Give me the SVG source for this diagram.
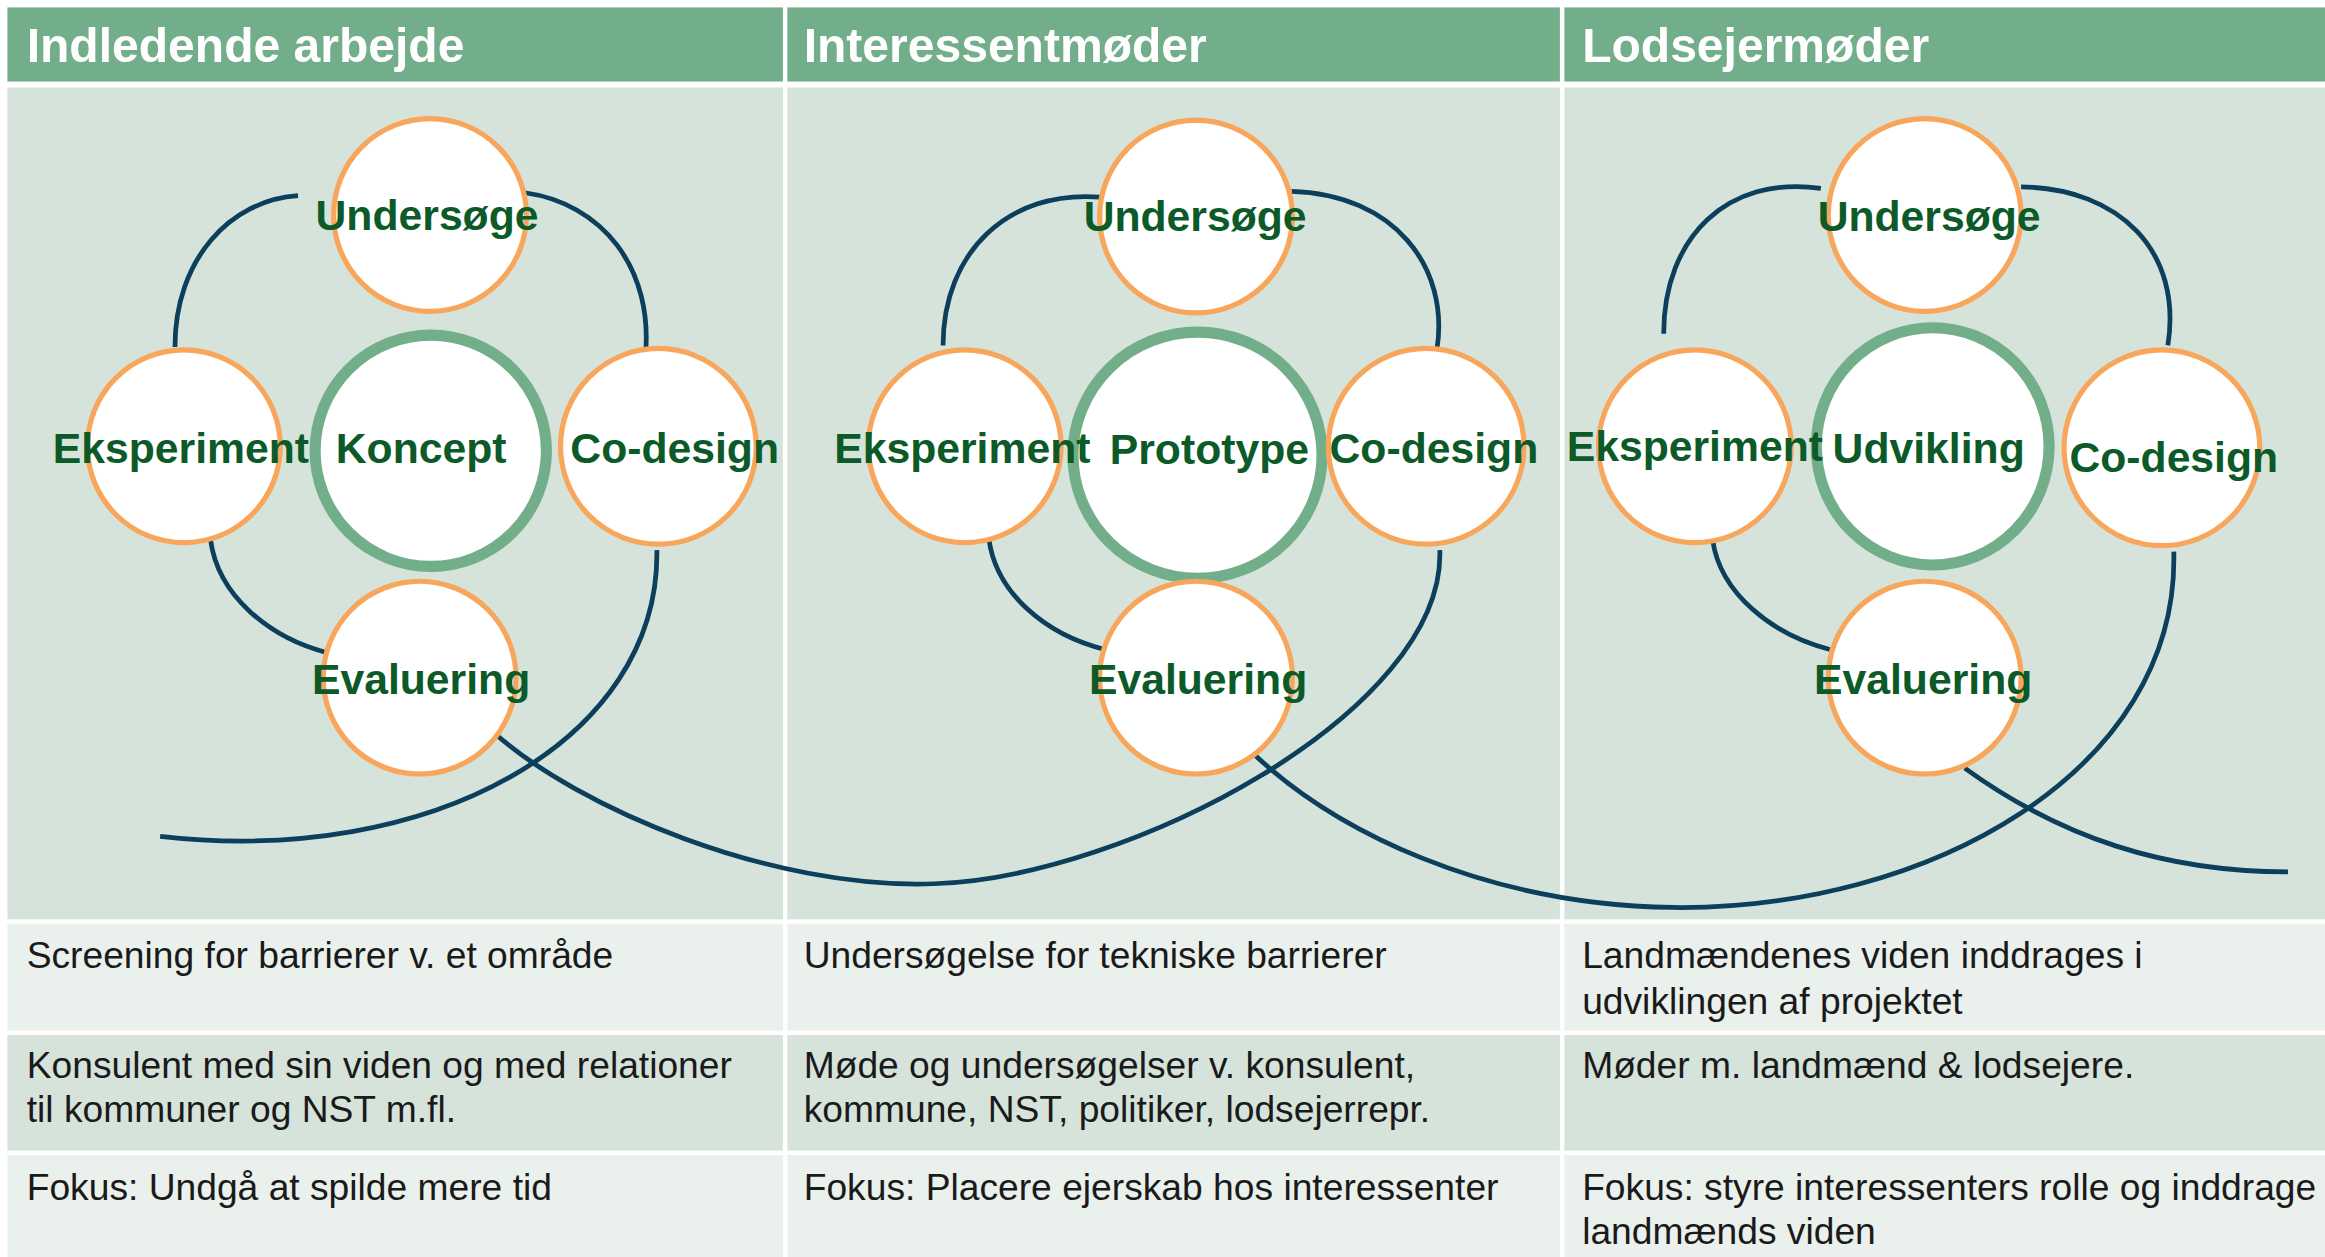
<svg xmlns="http://www.w3.org/2000/svg" width="2325" height="1257" viewBox="0 0 2325 1257">
<defs>
<style>
.hdr{fill:#72AE8A}
.pnl{fill:#D6E3DA}
.rowl{fill:#EAF0EC}
.rowd{fill:#D6E3DA}
.htxt{font-family:"Liberation Sans",Arial,sans-serif;font-weight:bold;font-size:32.4px;fill:#FFFFFF}
.btxt{font-family:"Liberation Sans",Arial,sans-serif;font-size:25.1px;fill:#1A1A1A}
.sm{fill:#FFFFFF;stroke:#F8A65B;stroke-width:3.5}
.big{fill:#FFFFFF;stroke:#72AE8A;stroke-width:7.5}
.lbl{font-family:"Liberation Sans",Arial,sans-serif;font-weight:bold;font-size:28.8px;fill:#0B5A28;text-anchor:middle}
.con{fill:none;stroke:#0B3F5C;stroke-width:3.2}
</style>
</defs>
<rect x="0" y="0" width="2325" height="1257" fill="#FFFFFF"/>
<g transform="scale(1.4828)">
<g id="background">
<rect class="hdr" x="5" y="5" width="523" height="50"/>
<rect class="hdr" x="531" y="5" width="521" height="50"/>
<rect class="hdr" x="1055" y="5" width="513" height="50"/>
<rect class="pnl" x="5" y="59" width="523" height="561"/>
<rect class="pnl" x="531" y="59" width="521" height="561"/>
<rect class="pnl" x="1055" y="59" width="513" height="561"/>
<rect class="rowl" x="5" y="623" width="523" height="72"/>
<rect class="rowl" x="531" y="623" width="521" height="72"/>
<rect class="rowl" x="1055" y="623" width="513" height="72"/>
<rect class="rowd" x="5" y="698" width="523" height="78"/>
<rect class="rowd" x="531" y="698" width="521" height="78"/>
<rect class="rowd" x="1055" y="698" width="513" height="78"/>
<rect class="rowl" x="5" y="779" width="523" height="69"/>
<rect class="rowl" x="531" y="779" width="521" height="69"/>
<rect class="rowl" x="1055" y="779" width="513" height="69"/>
</g>
<g id="headers">
<text class="htxt" x="18" y="42">Indledende arbejde</text>
<text class="htxt" x="542" y="42">Interessentmøder</text>
<text class="htxt" x="1067" y="42">Lodsejermøder</text>
</g>
<g id="connectors">
<path class="con" d="M118,234 C118,175 155,135 201,132"/>
<path class="con" d="M354,130 C405,137 442,180 435,243"/>
<path class="con" d="M142,364 C147,402 182,430 220,440"/>
<path class="con" d="M443,371 C445,500 290,585 108,564"/>
<path class="con" d="M333,494 C390,545 520,600 630,596 C760,592 975,480 971,371"/>
<path class="con" d="M636,233 C636,170 680,128 742,133"/>
<path class="con" d="M871,129 C940,131 978,180 969,236"/>
<path class="con" d="M667,364 C672,400 705,428 745,438"/>
<path class="con" d="M845,508 C900,560 1000,610 1128,612 C1300,614 1470,520 1466,372"/>
<path class="con" d="M1122,225 C1122,160 1165,118 1228,127"/>
<path class="con" d="M1363,126 C1430,127 1472,170 1462,233"/>
<path class="con" d="M1155,364 C1160,400 1195,428 1234,438"/>
<path class="con" d="M1325,518 C1390,565 1460,588 1543,588"/>
</g>
<g id="koncept"><ellipse class="big" cx="290.5" cy="304" rx="78" ry="78"/><text class="lbl" x="284" y="312">Koncept</text></g>
<g id="undersoege1"><circle class="sm" cx="290" cy="145" r="65"/><text class="lbl" x="288" y="155">Undersøge</text></g>
<g id="eksperiment1"><circle class="sm" cx="124" cy="301" r="65"/><text class="lbl" x="122" y="312">Eksperiment</text></g>
<g id="codesign1"><circle class="sm" cx="444" cy="301" r="66"/><text class="lbl" x="455" y="312">Co-design</text></g>
<g id="evaluering1"><circle class="sm" cx="283" cy="457" r="65"/><text class="lbl" x="284" y="468">Evaluering</text></g>
<g id="prototype"><ellipse class="big" cx="807.6" cy="307" rx="84" ry="83"/><text class="lbl" x="815.6" y="313">Prototype</text></g>
<g id="undersoege2"><circle class="sm" cx="806.6" cy="146" r="65"/><text class="lbl" x="806" y="156">Undersøge</text></g>
<g id="eksperiment2"><circle class="sm" cx="650.6" cy="301" r="65"/><text class="lbl" x="649" y="312">Eksperiment</text></g>
<g id="codesign2"><circle class="sm" cx="961.8" cy="301" r="66"/><text class="lbl" x="967" y="312">Co-design</text></g>
<g id="evaluering2"><circle class="sm" cx="806.6" cy="457" r="65"/><text class="lbl" x="808" y="468">Evaluering</text></g>
<g id="udvikling"><ellipse class="big" cx="1303.4" cy="301" rx="78.5" ry="80"/><text class="lbl" x="1300.7" y="312">Udvikling</text></g>
<g id="undersoege3"><circle class="sm" cx="1298" cy="145" r="65"/><text class="lbl" x="1301" y="156">Undersøge</text></g>
<g id="eksperiment3"><circle class="sm" cx="1143" cy="301" r="65"/><text class="lbl" x="1143" y="311">Eksperiment</text></g>
<g id="codesign3"><circle class="sm" cx="1458" cy="302" r="66"/><text class="lbl" x="1466" y="318">Co-design</text></g>
<g id="evaluering3"><circle class="sm" cx="1298" cy="457" r="65"/><text class="lbl" x="1297" y="468">Evaluering</text></g>
<g id="table-text">
<text class="btxt" x="18" y="653">Screening for barrierer v. et område</text>
<text class="btxt" x="542" y="653">Undersøgelse for tekniske barrierer</text>
<text class="btxt" x="1067" y="653">Landmændenes viden inddrages i</text>
<text class="btxt" x="1067" y="684">udviklingen af projektet</text>
<text class="btxt" x="18" y="727">Konsulent med sin viden og med relationer</text>
<text class="btxt" x="18" y="757">til kommuner og NST m.fl.</text>
<text class="btxt" x="542" y="727">Møde og undersøgelser v. konsulent,</text>
<text class="btxt" x="542" y="757">kommune, NST, politiker, lodsejerrepr.</text>
<text class="btxt" x="1067" y="727">Møder m. landmænd &amp; lodsejere.</text>
<text class="btxt" x="18" y="809">Fokus: Undgå at spilde mere tid</text>
<text class="btxt" x="542" y="809">Fokus: Placere ejerskab hos interessenter</text>
<text class="btxt" x="1067" y="809">Fokus: styre interessenters rolle og inddrage</text>
<text class="btxt" x="1067" y="839">landmænds viden</text>
</g>
</g>
</svg>
